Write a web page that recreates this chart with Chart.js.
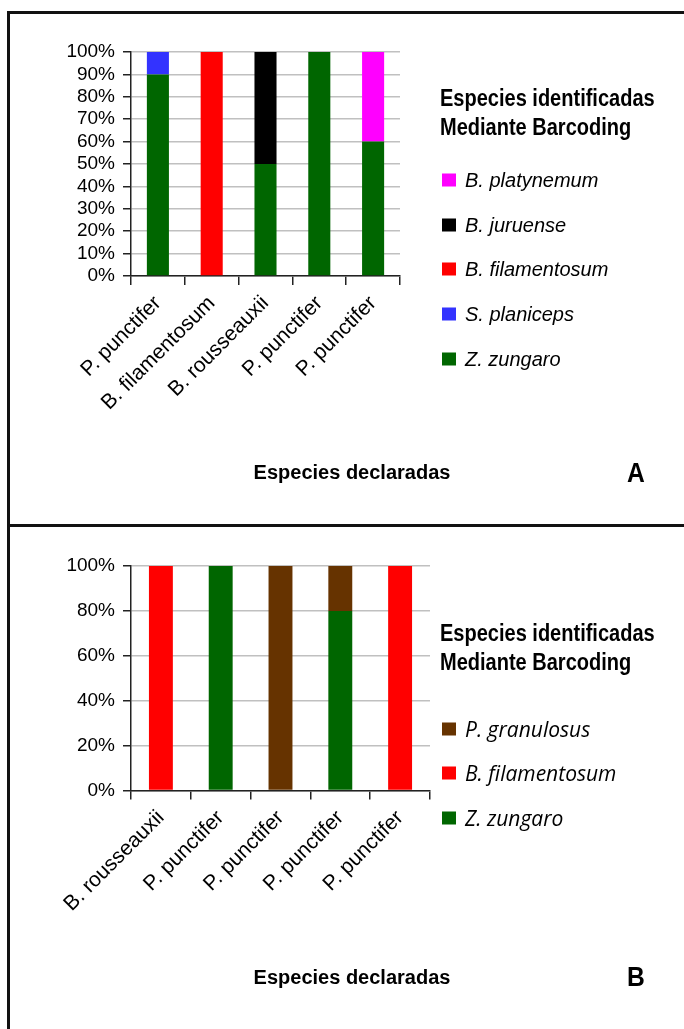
<!DOCTYPE html>
<html><head><meta charset="utf-8">
<script src="https://cdn.jsdelivr.net/npm/chart.js@4.4.0/dist/chart.umd.min.js"></script>
<style>
html,body{margin:0;padding:0;background:#fff;}
body{width:684px;height:1029px;position:relative;overflow:hidden;font-family:"Liberation Sans",Arial,sans-serif;}
.frame{position:absolute;left:7px;top:11px;width:720px;height:1060px;border-left:3px solid #111;border-top:3px solid #111;}
.divider{position:absolute;left:7px;top:524px;width:700px;height:3px;background:#111;}
canvas{position:absolute;left:0;}
.t{position:absolute;white-space:nowrap;transform:translateY(-50%);line-height:1.15;color:#000;}
.lt{font-weight:bold;font-size:23px;transform:translateY(-50%) scaleX(0.87);transform-origin:0 50%;}
.xt{font-weight:bold;font-size:20px;}
.pl{font-weight:bold;font-size:28px;transform:translateY(-50%) scaleX(0.88);transform-origin:0 50%;}
.liA{font-style:italic;font-size:20px;}
.liB{font-family:"Open Sans",sans-serif;font-style:italic;font-size:21px;}
.sw{position:absolute;width:14px;height:13px;transform:translateY(-50%);}
</style>
</head>
<body>
<div class="frame"></div>
<div class="divider"></div>
<canvas id="cA" width="684" height="520" style="top:0;width:684px;height:520px"></canvas>
<canvas id="cB" width="684" height="502" style="top:527px;width:684px;height:502px"></canvas>
<div id="ov"></div>
<script>
// ---- Data: panel A ----
const categoriesA = ['P. punctifer','B. filamentosum','B. rousseauxii','P. punctifer','P. punctifer'];
const zungaroA      = [90, 0, 50, 100, 60];
const planicepsA    = [10, 0, 0, 0, 0];
const filamentosumA = [0, 100, 0, 0, 0];
const juruenseA     = [0, 0, 50, 0, 0];
const platynemumA   = [0, 0, 0, 0, 40];
const yStepA = 10;

// ---- Data: panel B ----
const categoriesB = ['B. rousseauxii','P. punctifer','P. punctifer','P. punctifer','P. punctifer'];
const zungaroB      = [0, 100, 0, 80, 0];
const filamentosumB = [100, 0, 0, 0, 100];
const granulosusB   = [0, 0, 100, 20, 0];
const yStepB = 20;

const GREEN='#006600', BLUE='#3333ff', RED='#ff0000', BLACK='#000000', MAGENTA='#ff00ff', BROWN='#663300';

const dsA = [
  {label:'Z. zungaro', data:zungaroA, backgroundColor:GREEN},
  {label:'S. planiceps', data:planicepsA, backgroundColor:BLUE},
  {label:'B. filamentosum', data:filamentosumA, backgroundColor:RED},
  {label:'B. juruense', data:juruenseA, backgroundColor:BLACK},
  {label:'B. platynemum', data:platynemumA, backgroundColor:MAGENTA}
];
const dsB = [
  {label:'Z. zungaro', data:zungaroB, backgroundColor:GREEN},
  {label:'B. filamentosum', data:filamentosumB, backgroundColor:RED},
  {label:'P. granulosus', data:granulosusB, backgroundColor:BROWN}
];

function makeChart(id, labels, datasets, step, pad, barPct, yWidth, xHeight){
  datasets.forEach(d=>{d.borderWidth=0;d.barPercentage=barPct;d.categoryPercentage=1.0;});
  return new Chart(document.getElementById(id), {
    type:'bar',
    data:{labels:labels, datasets:datasets},
    options:{
      responsive:false, animation:false, devicePixelRatio:1,
      layout:{padding:pad},
      plugins:{legend:{display:false}, tooltip:{enabled:false}},
      scales:{
        x:{stacked:true, offset:true,
          grid:{display:true, drawOnChartArea:false, drawTicks:true, tickLength:9, tickColor:'#222', color:'#222', offset:true, lineWidth:1.5},
          border:{display:true, color:'#222', width:1.5},
          ticks:{maxRotation:45, minRotation:45, autoSkip:false, padding:6, color:'#000', font:{family:'Liberation Sans', size:21}},
          afterFit:(s)=>{s.height=xHeight;}
        },
        y:{stacked:true, min:0, max:100,
          ticks:{stepSize:step, autoSkip:false, padding:8, color:'#000', font:{family:'Liberation Sans', size:19}, callback:v=>v+'%'},
          grid:{color:'#c0c0c0', lineWidth:1.5, tickLength:8, tickColor:'#222'},
          border:{color:'#222', width:1.5},
          afterFit:(s)=>{s.width=yWidth;}
        }
      }
    }
  });
}

makeChart('cA', categoriesA, dsA, yStepA, {left:0, top:52, right:284, bottom:64}, 0.41, 131, 180);
makeChart('cB', categoriesB, dsB, yStepB, {left:0, top:39, right:254, bottom:58.5}, 0.40, 131, 180);

// ---- HTML legends / titles ----
const ov = document.getElementById('ov');
function txt(cls, s, x, y){const d=document.createElement('div');d.className='t '+cls;d.textContent=s;d.style.left=x+'px';d.style.top=y+'px';ov.appendChild(d);return d;}
function sw(color, x, y){const d=document.createElement('div');d.className='sw';d.style.background=color;d.style.left=x+'px';d.style.top=y+'px';ov.appendChild(d);}

txt('lt','Especies identificadas',440,98);
txt('lt','Mediante Barcoding',440,127);
const legendYA=[180,225,269,314,359];
dsA.slice().reverse().forEach((d,i)=>{sw(d.backgroundColor,442,legendYA[i]);txt('liA',d.label,465,legendYA[i]);});
const xtA = txt('xt','Especies declaradas',0,472); xtA.style.left='352px'; xtA.style.transform='translate(-50%,-50%)';
txt('pl','A',627,473);

txt('lt','Especies identificadas',440,633);
txt('lt','Mediante Barcoding',440,662);
const legendYB=[729,773,818];
dsB.slice().reverse().forEach((d,i)=>{sw(d.backgroundColor,442,legendYB[i]);txt('liB',d.label,465,legendYB[i]);});
const xtB = txt('xt','Especies declaradas',0,977); xtB.style.left='352px'; xtB.style.transform='translate(-50%,-50%)';
txt('pl','B',627,977);
</script>
</body></html>
